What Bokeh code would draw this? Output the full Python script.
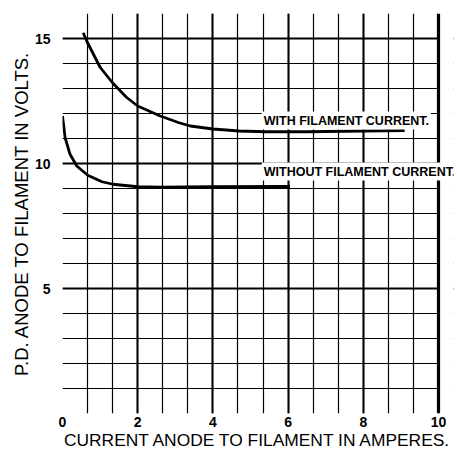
from bokeh.plotting import figure
from bokeh.models import Range1d, FixedTicker, Grid, Label, BoxAnnotation
from bokeh.embed import file_html
from bokeh.resources import INLINE

# ---- data ----
with_x = [0.55, 0.66, 1.0, 1.33, 1.7, 2.0, 2.6, 3.1, 3.4, 4.0, 4.7, 5.4, 6.5, 8.0, 9.1]
with_y = [15.23, 14.85, 13.85, 13.23, 12.65, 12.3, 11.9, 11.63, 11.5, 11.38, 11.3, 11.27, 11.27, 11.3, 11.32]

without_x = [0.0, 0.07, 0.2, 0.38, 0.67, 1.05, 1.34, 2.0, 2.6, 4.0, 6.05]
without_y = [11.9, 11.03, 10.37, 9.9, 9.53, 9.27, 9.17, 9.07, 9.05, 9.07, 9.08]

x_ticks = [0, 2, 4, 6, 8, 10]
y_ticks = [5, 10, 15]
x_minor_grid = [k * 2 / 3 for k in range(1, 15)]
x_major_grid = [2, 4, 6, 8]
x_border = [0, 10]
y_minor_grid = [k for k in range(1, 16)]
y_major_grid = [5, 10, 15]
y_border = [0, 16]
X_MAX = 10

label_with = "WITH FILAMENT CURRENT."
label_without = "WITHOUT FILAMENT CURRENT."
x_title = "CURRENT ANODE TO FILAMENT IN AMPERES."
y_title = "P.D. ANODE TO FILAMENT IN VOLTS."

FONT = "Liberation Sans"

# x range runs a little past 10 so the lower label may overhang the chart's border
p = figure(width=457, height=456,
           min_border_left=62, min_border_right=4, min_border_top=13, min_border_bottom=43,
           x_range=Range1d(0, 10.4), y_range=Range1d(0, 16),
           output_backend="svg", toolbar_location=None)
p.background_fill_color = "white"
p.border_fill_color = "white"
p.outline_line_color = None

p.xgrid.visible = False
p.ygrid.visible = False


def add_grid(dim, ticks, w):
    p.add_layout(Grid(dimension=dim, ticker=FixedTicker(ticks=ticks),
                      grid_line_color="black", grid_line_width=w))


add_grid(0, x_minor_grid, 1.2)
add_grid(1, y_minor_grid, 1.2)
add_grid(0, x_major_grid, 2.0)
add_grid(1, y_major_grid, 2.0)
add_grid(1, y_border, 3.2)
# white strip hides the grid right of the chart's border
p.add_layout(BoxAnnotation(left=X_MAX, fill_color="white", fill_alpha=1.0,
                           line_color=None, level="underlay"))
add_grid(0, x_border, 3.2)

# axes
for ax in (p.xaxis[0], p.yaxis[0]):
    ax.axis_line_color = None
    ax.major_tick_line_color = None
    ax.minor_tick_line_color = None
    ax.major_tick_out = 0
    ax.major_tick_in = 0
    ax.major_label_text_font = FONT
    ax.major_label_text_font_style = "bold"
    ax.major_label_text_font_size = "14px"
    ax.major_label_text_color = "black"
    ax.axis_label_text_font = FONT
    ax.axis_label_text_font_style = "normal"
    ax.axis_label_text_color = "black"
    ax.axis_label_standoff = 0

p.xaxis.ticker = FixedTicker(ticks=x_ticks)
p.yaxis.ticker = FixedTicker(ticks=y_ticks)
p.xaxis.major_label_standoff = 3
p.yaxis.major_label_standoff = 12
p.xaxis.axis_label = x_title
p.xaxis.axis_label_text_font_size = "17.4px"
p.yaxis.axis_label = y_title
p.yaxis.axis_label_text_font_size = "18.5px"

# curves
p.line(with_x, with_y, line_color="black", line_width=2.8)
p.line(without_x, without_y, line_color="black", line_width=2.8)

# curve labels with white background
for txt, lx, ly in [(label_with, 5.3, 11.72), (label_without, 5.3, 9.68)]:
    p.add_layout(Label(x=lx, y=ly, text=txt, text_align="left", text_baseline="middle",
                       text_font=FONT, text_font_style="bold",
                       text_font_size="12.5px", text_color="black",
                       background_fill_color="white", padding=2))

open("out.html", "w").write(file_html(p, INLINE))
